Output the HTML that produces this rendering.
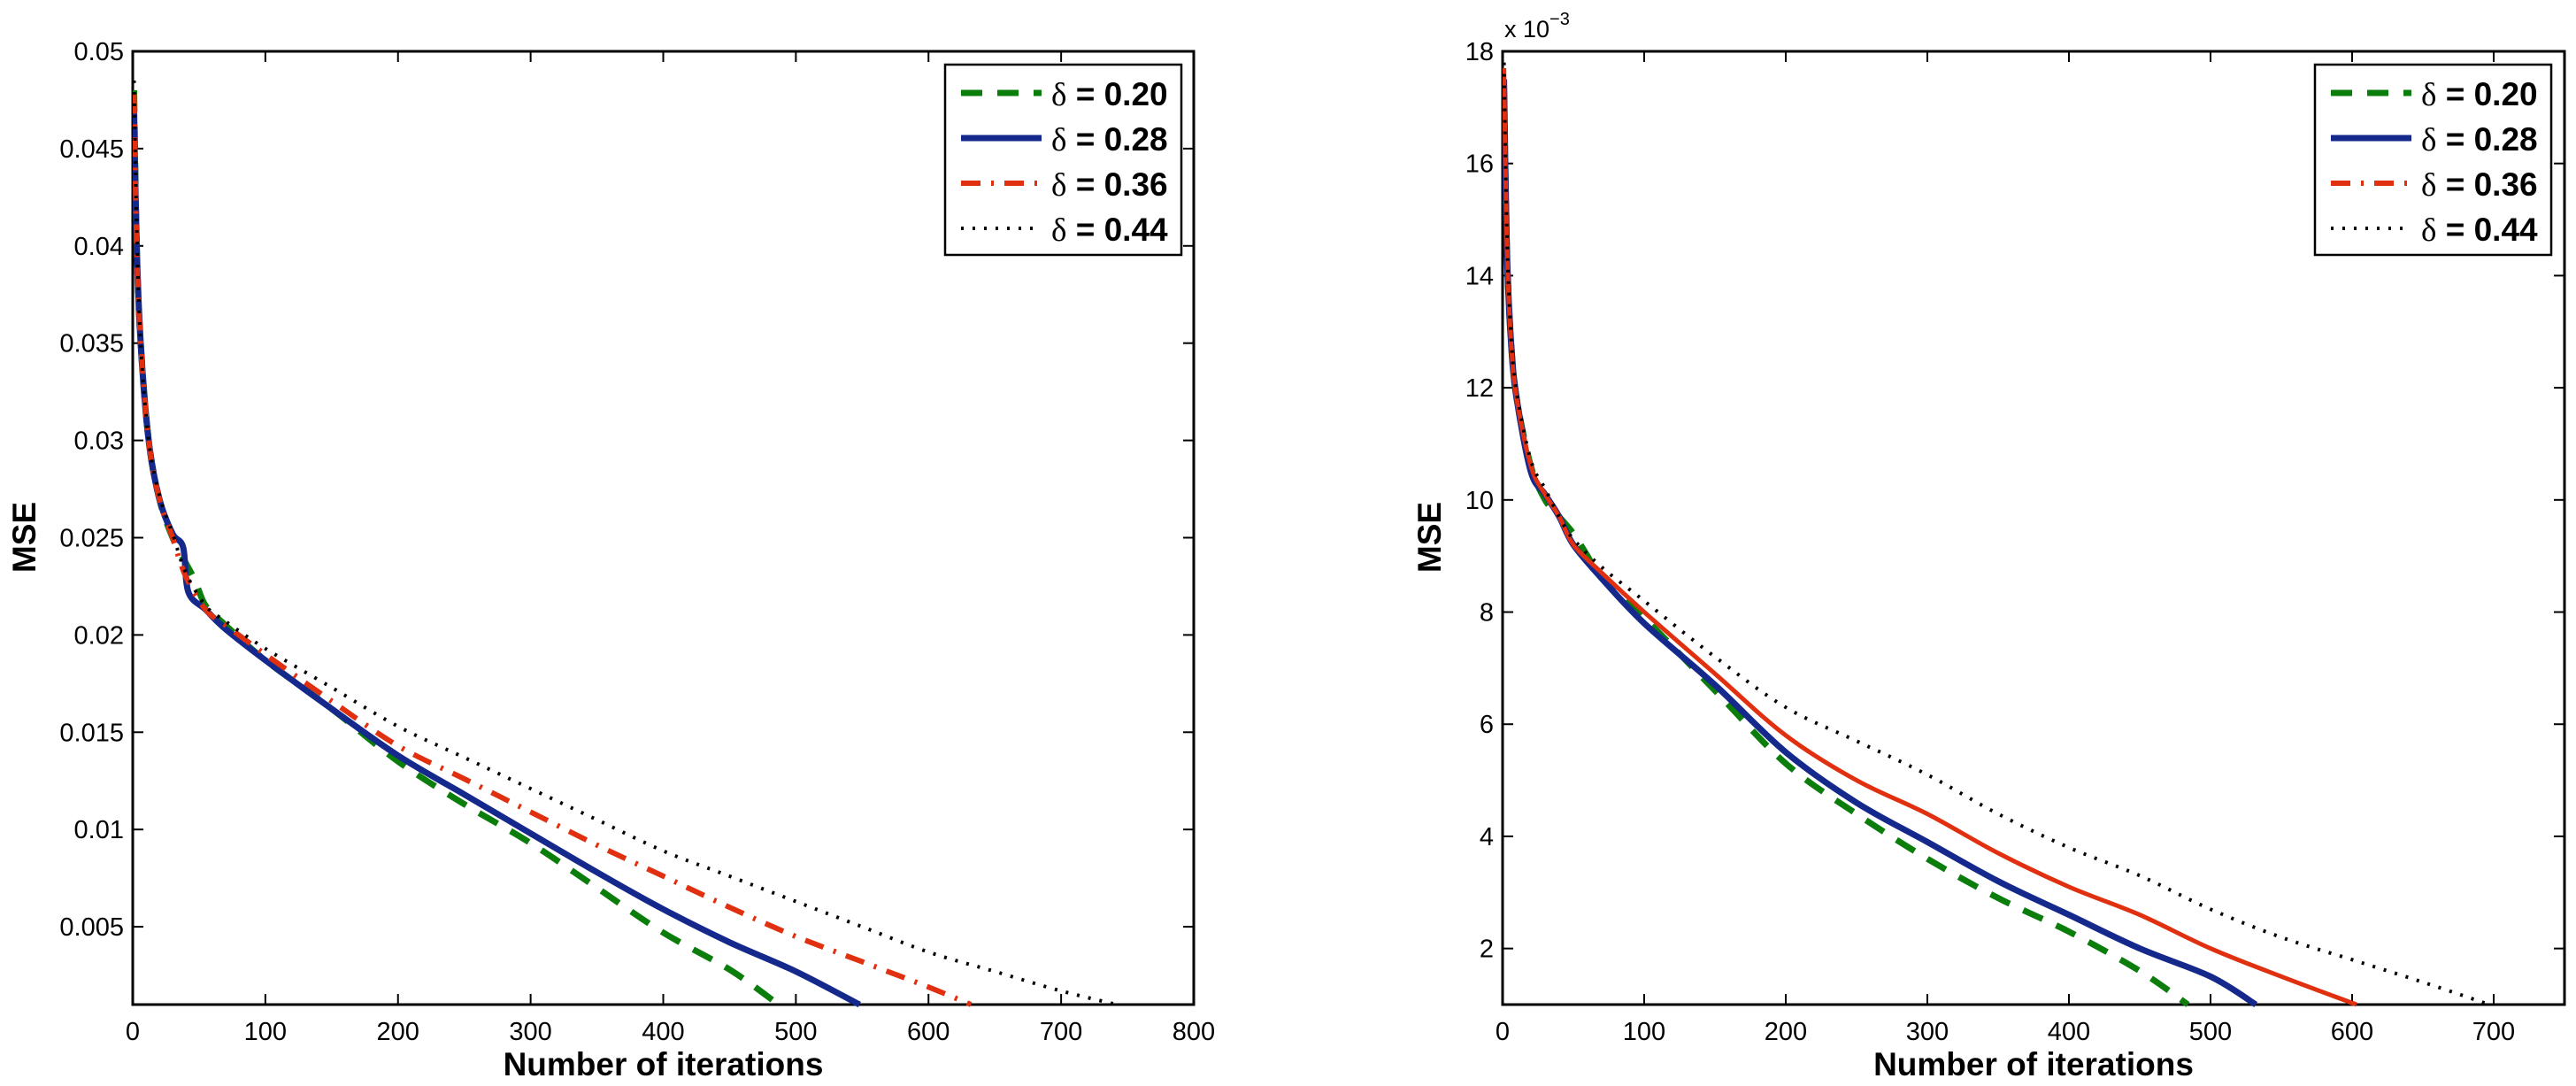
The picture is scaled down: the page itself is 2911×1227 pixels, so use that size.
<!DOCTYPE html>
<html><head><meta charset="utf-8"><style>
html,body{margin:0;padding:0;background:#fff;}
svg{display:block;font-family:"Liberation Sans",Arial,sans-serif;}
</style></head><body>
<svg id="fig" width="2911" height="1227" viewBox="0 0 2911 1227" xmlns="http://www.w3.org/2000/svg"></svg>
<script>
// ---- data: left panel ----
const leftItersG=[1,3,6,12,20,30,40,47,55,70,100,150,200,250,300,350,400,450,487];
const leftMseG=[0.048,0.040,0.035,0.030,0.027,0.0250,0.0237,0.0228,0.0215,0.0205,0.0187,0.0162,0.0135,0.0113,0.0093,0.0070,0.0047,0.0028,0.001];
const leftItersB=[1,3,6,12,20,30,38,42,55,70,100,150,200,250,300,350,400,450,500,548];
const leftMseB=[0.047,0.040,0.035,0.030,0.027,0.0252,0.0245,0.0222,0.0213,0.0203,0.0187,0.0162,0.0138,0.0118,0.0098,0.0078,0.0059,0.0042,0.0027,0.001];
const leftItersR=[1,3,6,12,20,30,40,55,70,100,150,200,250,300,350,400,450,500,550,600,632];
const leftMseR=[0.0478,0.040,0.035,0.030,0.027,0.0250,0.0230,0.0213,0.0205,0.0190,0.0166,0.0143,0.0126,0.0109,0.0092,0.0076,0.0060,0.0045,0.0032,0.0019,0.001];
const leftItersK=[1,3,6,12,20,30,40,55,70,100,150,200,250,300,350,400,450,500,550,600,650,700,742];
const leftMseK=[0.0485,0.041,0.035,0.030,0.0272,0.0252,0.0232,0.0215,0.0207,0.0193,0.0173,0.0153,0.0137,0.0121,0.0105,0.0089,0.0076,0.0063,0.0050,0.0037,0.0027,0.0017,0.001];
const leftYTicks=[0.005,0.01,0.015,0.02,0.025,0.03,0.035,0.04,0.045,0.05];
const leftYLabels=["0.005","0.01","0.015","0.02","0.025","0.03","0.035","0.04","0.045","0.05"];
const leftXTicks=[0,100,200,300,400,500,600,700,800];
// ---- data: right panel (x1e-3) ----
const rightItersG=[1,3,6,10,20,30,40,50,60,70,100,150,200,250,300,350,400,450,484];
const rightMseG=[17.3,14.5,12.8,11.8,10.6,10.0,9.7,9.4,9.0,8.6,7.9,6.6,5.3,4.4,3.6,2.9,2.3,1.6,1.0];
const rightItersB=[1,3,6,10,20,30,40,50,70,100,150,200,250,300,350,400,450,500,532];
const rightMseB=[17.5,14.5,12.8,11.8,10.5,10.1,9.7,9.2,8.6,7.8,6.7,5.5,4.6,3.9,3.2,2.6,2.0,1.5,1.0];
const rightItersR=[1,3,6,10,20,30,40,50,70,100,150,200,250,300,350,400,450,500,550,603];
const rightMseR=[17.7,14.6,12.8,11.8,10.6,10.1,9.7,9.2,8.7,8.0,6.9,5.8,5.0,4.4,3.7,3.1,2.6,2.0,1.5,1.0];
const rightItersK=[1,3,6,10,20,30,40,50,70,100,150,200,250,300,350,400,450,500,550,600,650,697];
const rightMseK=[17.8,14.8,12.9,11.9,10.7,10.2,9.7,9.3,8.8,8.2,7.2,6.3,5.7,5.1,4.4,3.8,3.3,2.7,2.2,1.8,1.4,1.0];
const rightYTicks=[2,4,6,8,10,12,14,16,18];
const rightYLabels=["2","4","6","8","10","12","14","16","18"];
const rightXTicks=[0,100,200,300,400,500,600,700];
const legendLabels=["δ = 0.20","δ = 0.28","δ = 0.36","δ = 0.44"];

const NS="http://www.w3.org/2000/svg";
const svg=document.getElementById('fig');
function mk(tag,attrs,parent){const e=document.createElementNS(NS,tag);for(const k in attrs)e.setAttribute(k,attrs[k]);(parent||svg).appendChild(e);return e;}

const styles=[
 {stroke:"#0b7d0b",w:7,dash:"24 17"},
 {stroke:"#15288c",w:7,dash:""},
 {stroke:"#e03010",w:6,dash:"22 12 3 12"},
 {stroke:"#000",w:4,dash:"3 10"}
];

function smoothPath(P){
  let d='M'+P[0][0].toFixed(1)+','+P[0][1].toFixed(1);
  for(let i=0;i<P.length-1;i++){
    const p0=P[Math.max(0,i-1)],p1=P[i],p2=P[i+1],p3=P[Math.min(P.length-1,i+2)];
    const c1x=p1[0]+(p2[0]-p0[0])/6,c1y=p1[1]+(p2[1]-p0[1])/6;
    const c2x=p2[0]-(p3[0]-p1[0])/6,c2y=p2[1]-(p3[1]-p1[1])/6;
    d+=' C'+c1x.toFixed(1)+','+c1y.toFixed(1)+' '+c2x.toFixed(1)+','+c2y.toFixed(1)+' '+p2[0].toFixed(1)+','+p2[1].toFixed(1);
  }
  return d;
}

function panel(name,L,R,T,B,xmin,xmax,ymin,ymax,xticks,yticks,ylabels,series,legX,redSolid,ylabX){
  const g=mk('g',{});
  
  
  const sx=v=>L+(v-xmin)/(xmax-xmin)*(R-L);
  const sy=v=>B-(v-ymin)/(ymax-ymin)*(B-T);
  const box=mk('rect',{x:L,y:T,width:R-L,height:B-T,fill:'#fff',stroke:'#000','stroke-width':3},g);
  
  
  xticks.forEach(t=>{
    const x=sx(t);
    mk('line',{x1:x,y1:B,x2:x,y2:B-12,stroke:'#000','stroke-width':2},g);
    mk('line',{x1:x,y1:T,x2:x,y2:T+12,stroke:'#000','stroke-width':2},g);
    const tx=mk('text',{x:x,y:1175,'font-size':29,'text-anchor':'middle'},g);
    tx.textContent=String(t);
    
    
  });
  yticks.forEach((t,i)=>{
    const y=sy(t);
    mk('line',{x1:L,y1:y,x2:L+12,y2:y,stroke:'#000','stroke-width':2},g);
    mk('line',{x1:R,y1:y,x2:R-12,y2:y,stroke:'#000','stroke-width':2},g);
    const ty=mk('text',{x:L-10,y:y+10,'font-size':29,'text-anchor':'end'},g);
    ty.textContent=ylabels[i];
    
    
  });
  const clip=mk('clipPath',{id:name+'-clip'},g);
  mk('rect',{x:L,y:T,width:R-L,height:B-T+4},clip);
  series.forEach((s,i)=>{
    const st=styles[i];
    const P=s.x.map((v,j)=>[sx(v),sy(s.y[j])]);
    const dash=(i===2&&redSolid)?'':st.dash;
    const p=mk('path',{d:smoothPath(P),fill:'none',stroke:st.stroke,'stroke-width':(i===2&&redSolid)?5:st.w,'stroke-dasharray':dash,'stroke-linejoin':'round','clip-path':'url(#'+name+'-clip)'},g);
    
    
  });
  const lg=mk('g',{},g);
  
  
  mk('rect',{x:legX,y:73,width:267,height:215,fill:'#fff',stroke:'#000','stroke-width':2.5},lg);
  legendLabels.forEach((lab,i)=>{
    const y=105+i*51;
    const st=styles[i];
    mk('line',{x1:legX+18,y1:y,x2:legX+109,y2:y,stroke:st.stroke,'stroke-width':st.w,'stroke-dasharray':st.dash},lg);
    const t=mk('text',{x:legX+120,y:y+14,'font-size':37,'font-weight':'bold'},lg);
    t.innerHTML='<tspan font-family="Liberation Serif,serif" font-weight="normal">δ</tspan> = '+lab.slice(4);
    
    
  });
  const xl=mk('text',{x:(L+R)/2,y:1215,'font-size':37,'font-weight':'bold','text-anchor':'middle'},g);
  xl.textContent='Number of iterations';
  
  
  const yl=mk('text',{x:0,y:0,'font-size':37,'font-weight':'bold','text-anchor':'middle',transform:'translate('+ylabX+',607) rotate(-90)'},g);
  yl.textContent='MSE';
  
  
}

panel('left-chart',150,1349,58,1135,0,800,0.001,0.05,leftXTicks,leftYTicks,leftYLabels,
 [{x:leftItersG,y:leftMseG},{x:leftItersB,y:leftMseB},{x:leftItersR,y:leftMseR},{x:leftItersK,y:leftMseK}],1068,false,40);
panel('right-chart',1698,2898,58,1135,0,750,1,18,rightXTicks,rightYTicks,rightYLabels,
 [{x:rightItersG,y:rightMseG},{x:rightItersB,y:rightMseB},{x:rightItersR,y:rightMseR},{x:rightItersK,y:rightMseK}],2616,true,1628);
const ex=mk('text',{x:1700,y:42,'font-size':27});
ex.innerHTML='x 10<tspan dy="-14" font-size="20">−3</tspan>';


</script>
</body></html>
